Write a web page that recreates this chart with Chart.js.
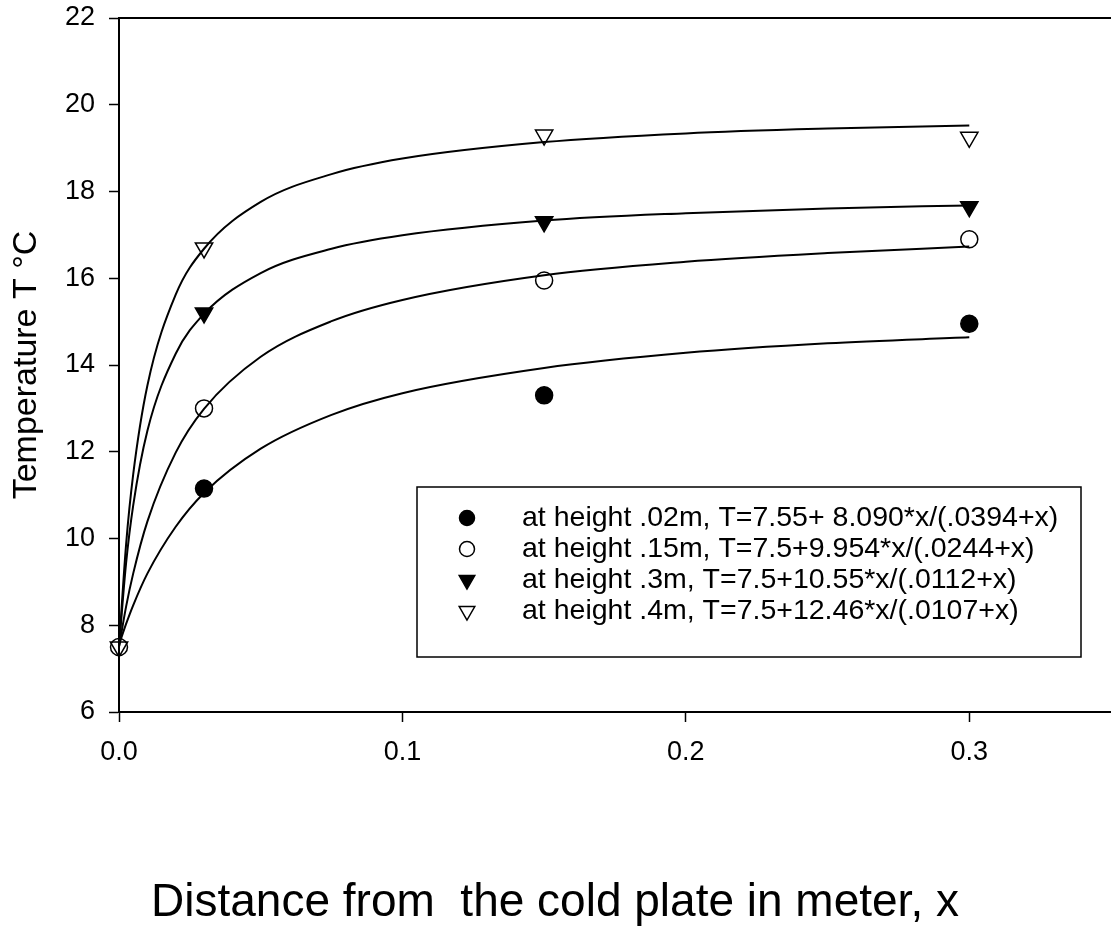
<!DOCTYPE html>
<html>
<head>
<meta charset="utf-8">
<script src="https://cdn.jsdelivr.net/npm/chart.js@4.4.1/dist/chart.umd.min.js"></script>
<style>
  html, body { margin: 0; padding: 0; background: #fff; overflow: hidden; }
  canvas { display: block; }
</style>
</head>
<body>
<canvas id="chart" width="1111" height="952"></canvas>
<script>
/*** data ***/
// measured points (x in m, T in degC); filled markers are not visible at x=0
const xMeas = [0, 0.03, 0.15, 0.3];
const tH02 = [null, 11.15, 13.3, 14.95];
const tH15 = [7.5, 13.0, 15.95, 16.9];
const tH30 = [null, 15.2, 17.3, 17.65];
const tH40 = [7.5, 16.7, 19.3, 19.25];

// fitted curves
const xFit = [0, 0.0025, 0.005, 0.01, 0.02, 0.03, 0.05, 0.075, 0.1, 0.15, 0.2, 0.25, 0.3];
const fitH02 = [7.55, 8.03, 8.46, 9.19, 10.27, 11.05, 12.07, 12.85, 13.35, 13.93, 14.28, 14.5, 14.64];
const fitH15 = [7.5, 8.43, 9.19, 10.39, 11.98, 12.99, 14.19, 15.01, 15.5, 16.07, 16.38, 16.58, 16.73];
const fitH30 = [7.5, 9.43, 10.76, 12.48, 14.26, 15.18, 16.12, 16.68, 16.99, 17.33, 17.5, 17.61, 17.68];
const fitH40 = [7.5, 9.86, 11.47, 13.52, 15.62, 16.68, 17.76, 18.4, 18.76, 19.14, 19.34, 19.45, 19.52];

const xTicks = [0, 0.1, 0.2, 0.3];
const legendLabels = [
  'at height .02m, T=7.55+ 8.090*x/(.0394+x)',
  'at height .15m, T=7.5+9.954*x/(.0244+x)',
  'at height .3m, T=7.5+10.55*x/(.0112+x)',
  'at height .4m, T=7.5+12.46*x/(.0107+x)',
];
const xTitle = 'Distance from  the cold plate in meter, x';
const yTitle = 'Temperature T \u00B0C';

const FONT = '"Liberation Sans", Arial, sans-serif';

/*** marker styles ***/
const markers = [
  { pointStyle: 'circle', radius: 8.5, rotation: 0, fill: '#000' },
  { pointStyle: 'circle', radius: 8.5, rotation: 0, fill: 'rgba(0,0,0,0)' },
  { pointStyle: 'triangle', radius: 10, rotation: 180, fill: '#000' },
  { pointStyle: 'triangle', radius: 10, rotation: 180, fill: 'rgba(0,0,0,0)' },
];

function toXY(xs, ys) {
  return xs.map((x, i) => ({ x: x, y: ys[i] }));
}

function fitSet(ys) {
  return {
    type: 'line',
    data: toXY(xFit, ys),
    borderColor: '#000',
    borderWidth: 2,
    pointRadius: 0,
    fill: false,
    cubicInterpolationMode: 'monotone',
    order: 2,
  };
}

function measSet(ys, m) {
  return {
    type: 'scatter',
    data: toXY(xMeas, ys),
    pointStyle: m.pointStyle,
    pointRadius: m.radius,
    pointRotation: m.rotation,
    pointBackgroundColor: m.fill,
    pointBorderColor: '#000',
    pointBorderWidth: 1.5,
    showLine: false,
    clip: false,
    order: 1,
  };
}

/*** plugins ***/
const frameAndText = {
  id: 'frameAndText',
  afterDraw(chart) {
    const ctx = chart.ctx;
    const a = chart.chartArea;
    ctx.save();

    // top frame line
    ctx.strokeStyle = '#000';
    ctx.lineWidth = 2;
    ctx.beginPath();
    ctx.moveTo(a.left, a.top);
    ctx.lineTo(a.right, a.top);
    ctx.stroke();

    // legend box
    const box = { left: 417, top: 487, right: 1081, bottom: 657 };
    ctx.lineWidth = 1.5;
    ctx.strokeRect(box.left, box.top, box.right - box.left, box.bottom - box.top);
    const rowY = [518, 549, 580, 611];
    ctx.font = '28.5px ' + FONT;
    ctx.textBaseline = 'middle';
    ctx.textAlign = 'left';
    legendLabels.forEach((txt, i) => {
      const m = markers[i];
      ctx.fillStyle = m.fill;
      ctx.strokeStyle = '#000';
      Chart.helpers.drawPoint(ctx, {
        pointStyle: m.pointStyle,
        radius: m.radius - 1,
        rotation: m.rotation,
        borderWidth: 1.2,
      }, 467, rowY[i]);
      ctx.fillStyle = '#000';
      ctx.fillText(txt, 522, rowY[i]);
    });

    // x axis title, centred on the page
    ctx.font = '46px ' + FONT;
    ctx.textAlign = 'center';
    ctx.fillStyle = '#000';
    ctx.fillText(xTitle, 555, 903);
    ctx.restore();
  },
};

/*** chart ***/
new Chart(document.getElementById('chart'), {
  data: {
    datasets: [
      fitSet(fitH02), fitSet(fitH15), fitSet(fitH30), fitSet(fitH40),
      measSet(tH02, markers[0]), measSet(tH15, markers[1]),
      measSet(tH30, markers[2]), measSet(tH40, markers[3]),
    ],
  },
  options: {
    responsive: false,
    animation: false,
    layout: {
      autoPadding: false,
      padding: { top: 18, right: 0, bottom: 0, left: 0 },
    },
    plugins: {
      legend: { display: false },
      tooltip: { enabled: false },
    },
    scales: {
      x: {
        type: 'linear',
        min: 0,
        max: 0.35,
        afterBuildTicks: (scale) => {
          scale.ticks = xTicks.map((v) => ({ value: v }));
        },
        afterFit: (scale) => {
          scale.height = 240;
          scale.paddingLeft = 0;
          scale.paddingRight = 0;
        },
        ticks: {
          color: '#000',
          font: { family: FONT, size: 27 },
          padding: 14,
          maxRotation: 0,
          callback: (value) => value.toFixed(1),
        },
        grid: {
          drawOnChartArea: false,
          drawTicks: true,
          tickLength: 10,
          tickColor: '#000',
          tickWidth: 1.5,
        },
        border: { display: true, color: '#000', width: 2 },
      },
      y: {
        type: 'linear',
        min: 6,
        max: 22,
        afterFit: (scale) => {
          scale.width = 119;
          scale.paddingTop = 0;
          scale.paddingBottom = 0;
        },
        ticks: {
          stepSize: 2,
          color: '#000',
          font: { family: FONT, size: 27 },
          padding: 14,
        },
        grid: {
          drawOnChartArea: false,
          drawTicks: true,
          tickLength: 10,
          tickColor: '#000',
          tickWidth: 1.5,
        },
        border: { display: true, color: '#000', width: 2 },
        title: {
          display: true,
          text: yTitle,
          color: '#000',
          font: { family: FONT, size: 34 },
          padding: { top: 6, bottom: 0 },
        },
      },
    },
  },
  plugins: [frameAndText],
});
</script>
</body>
</html>
